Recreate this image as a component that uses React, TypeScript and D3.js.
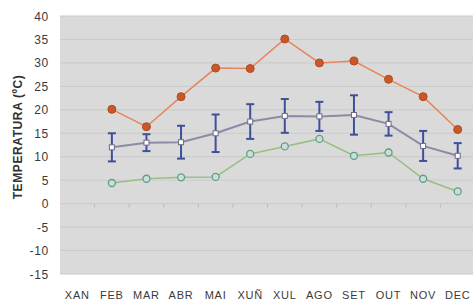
import React from "react";
import * as d3 from "d3";

const months = ["XAN", "FEB", "MAR", "ABR", "MAI", "XUÑ", "XUL", "AGO", "SET", "OUT", "NOV", "DEC"];
const maxTemp: (number | null)[] = [null, 20.1, 16.4, 22.8, 28.9, 28.8, 35.1, 30.0, 30.4, 26.5, 22.8, 15.8];
const meanTemp: (number | null)[] = [null, 12.0, 13.0, 13.1, 15.0, 17.5, 18.7, 18.6, 18.9, 17.0, 12.3, 10.2];
const meanErr: (number | null)[] = [null, 3.0, 1.8, 3.5, 4.0, 3.7, 3.6, 3.1, 4.2, 2.5, 3.2, 2.7];
const minTemp: (number | null)[] = [null, 4.4, 5.3, 5.6, 5.7, 10.6, 12.2, 13.8, 10.2, 10.9, 5.3, 2.6];
const yTicks = [40, 35, 30, 25, 20, 15, 10, 5, 0, -5, -10, -15];

const W = 473, H = 306;
const left = 60, right = 475, top = 16, bottom = 274;

export default function App() {
  const x = d3.scaleBand<string>().domain(months).range([left, right]);
  const y = d3.scaleLinear().domain([-15, 40]).range([bottom, top]);
  const cx = (m: string) => (x(m) as number) + x.bandwidth() / 2;
  const font = "'Liberation Sans', Arial, sans-serif";

  const mk = (vals: (number | null)[]) =>
    d3
      .line<number | null>()
      .defined((d) => d != null)
      .x((_, i) => cx(months[i]))
      .y((d) => y(d as number))(vals) || "";

  return (
    <svg width={W} height={H} style={{ position: "absolute", left: 0, top: 0, background: "#fff" }}>
      <rect x={left} y={top} width={right - left} height={bottom - top} fill="#dadada" />
      {yTicks.map((t) => (
        <line key={"g" + t} x1={left} x2={right} y1={y(t)} y2={y(t)} stroke="#cacaca" strokeWidth={1} />
      ))}
      {months.map((m, i) =>
        i > 0 ? (
          <line key={"t" + m} x1={x(m)} x2={x(m)} y1={y(0)} y2={y(0) + 4} stroke="#bdbdbd" strokeWidth={1} />
        ) : null
      )}
      {yTicks.map((t) => (
        <text key={"l" + t} x={49} y={y(t) + 4.5} textAnchor="end" fontFamily={font} fontSize={12} letterSpacing={0.7} fill="#3a3a3a">
          {t}
        </text>
      ))}
      <text
        transform={`translate(22,137) rotate(-90)`}
        textAnchor="middle"
        fontFamily={font}
        fontSize={12}
        fontWeight="bold"
        letterSpacing={0.6}
        fill="#333"
      >
        TEMPERATURA (ºC)
      </text>
      {months.map((m) => (
        <text key={"x" + m} x={cx(m)} y={299} textAnchor="middle" fontFamily={font} fontSize={11} letterSpacing={0.8} fill="#3a3a3a">
          {m}
        </text>
      ))}

      <path d={mk(maxTemp)} fill="none" stroke="#e8845a" strokeWidth={1.5} />
      <path d={mk(minTemp)} fill="none" stroke="#96c080" strokeWidth={1.5} />
      <path d={mk(meanTemp)} fill="none" stroke="#8d89a6" strokeWidth={2} />

      {meanTemp.map((v, i) => {
        if (v == null) return null;
        const e = meanErr[i] as number;
        const px = cx(months[i]);
        return (
          <g key={"e" + i} stroke="#3e4f9c" strokeWidth={2}>
            <line x1={px} x2={px} y1={y(v + e)} y2={y(v - e)} />
            <line x1={px - 4} x2={px + 4} y1={y(v + e)} y2={y(v + e)} />
            <line x1={px - 4} x2={px + 4} y1={y(v - e)} y2={y(v - e)} />
          </g>
        );
      })}

      {maxTemp.map((v, i) =>
        v == null ? null : (
          <circle key={"mx" + i} cx={cx(months[i])} cy={y(v)} r={4} fill="#c8582a" stroke="#b04a20" strokeWidth={1} />
        )
      )}
      {minTemp.map((v, i) =>
        v == null ? null : (
          <circle key={"mn" + i} cx={cx(months[i])} cy={y(v)} r={3.5} fill="#c8e0d8" stroke="#5f9c8c" strokeWidth={1.3} />
        )
      )}
      {meanTemp.map((v, i) =>
        v == null ? null : (
          <rect key={"me" + i} x={cx(months[i]) - 2.5} y={y(v) - 2.5} width={5} height={5} fill="#fff" stroke="#6e6a88" strokeWidth={1} />
        )
      )}
    </svg>
  );
}
